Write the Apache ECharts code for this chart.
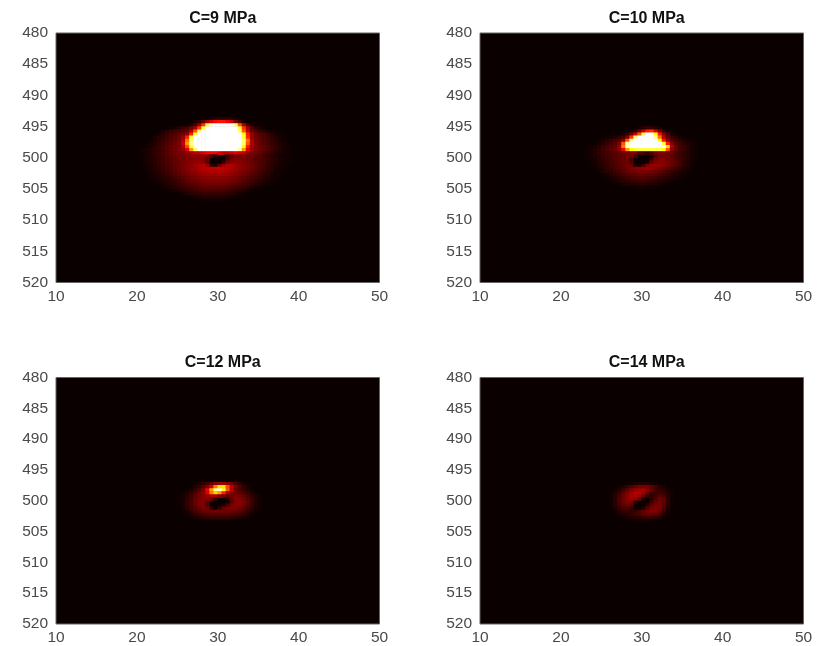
<!DOCTYPE html>
<html><head><meta charset="utf-8">
<style>html,body{margin:0;padding:0;background:#fff}#c{width:823px;height:646px;filter:blur(0.6px)}</style>
<script src="https://cdn.jsdelivr.net/npm/echarts@6/dist/echarts.min.js"></script>
</head><body><div id="c"></div>
<script>
const titles = ['C=9 MPa','C=10 MPa','C=12 MPa','C=14 MPa'];
const xTicks = {min:10,max:50,step:10};
const yTicks = {min:480,max:520,step:5};
const cellSize = 0.5;
// intensities (0-100) on a 0.5 x 0.5 cell grid, first cell at the given x/y
const c9Start = [20,493.5];
const c9Rows = [
[0,0,0,0,0,0,0,0,0,0,0,0,0,0,0,0,0,1,2,3,4,4,4,3,2,1],
[0,0,0,0,0,0,0,0,0,0,0,0,0,0,2,5,12,22,32,38,40,40,36,28,16,7,2],
[0,0,0,0,0,0,0,0,0,0,0,0,0,3,8,20,45,80,96,100,100,100,100,98,85,50,22,8,3],
[0,0,0,0,0,0,0,0,1,2,4,6,8,13,22,45,80,100,100,100,100,100,100,100,100,80,45,20,10,5,3,1],
[0,0,0,0,0,0,2,4,6,7,8,10,12,22,50,85,100,100,100,100,100,100,100,100,100,85,50,24,13,9,6,4,2,1],
[0,0,0,0,0,2,4,6,8,9,11,13,20,42,80,100,100,100,100,100,100,100,100,100,100,100,75,40,20,13,10,8,6,4,2,1],
[0,0,0,0,2,4,5,7,9,11,14,20,42,80,100,100,100,100,100,100,100,100,100,100,100,100,80,42,20,14,11,9,7,5,3,2,1],
[0,0,0,1,2,4,6,8,10,12,15,24,55,85,100,100,100,100,100,100,100,100,100,100,100,100,88,55,24,15,12,10,8,6,4,2,1],
[0,0,1,2,3,5,7,9,11,13,15,28,60,88,100,100,100,100,100,100,100,100,100,100,100,100,85,50,24,15,12,10,8,6,4,3,2,1],
[0,0,1,2,4,6,8,10,12,14,16,24,48,80,100,100,100,100,100,100,100,100,100,100,100,100,75,40,22,16,13,11,9,7,5,3,2,1],
[0,1,2,3,5,6,8,10,12,14,16,20,32,60,85,100,100,100,100,100,100,100,100,100,100,90,60,32,20,16,13,11,9,7,5,3,2,1],
[0,1,2,3,5,6,8,10,12,13,15,16,18,22,26,28,32,36,38,38,32,26,26,30,34,30,26,20,16,14,12,10,8,6,4,3,2,1,0,0],
[0,1,2,3,5,6,8,10,11,13,14,15,16,18,19,19,18,16,10,4,0,0,6,12,15,15,15,14,13,11,10,8,6,4,3,2,1,1,0,0],
[1,1,2,3,4,6,7,9,10,12,13,14,16,17,18,18,17,12,0,0,0,0,8,14,16,16,15,14,12,10,10,8,7,5,4,2,2,1,1,0],
[0,1,2,3,4,6,7,9,10,12,13,15,16,18,19,20,18,10,0,0,0,6,14,17,18,17,16,14,13,11,9,8,6,5,3,2,1,1,0,0],
[0,1,1,2,4,5,7,8,10,11,13,15,17,19,21,23,25,20,5,3,12,20,24,24,21,19,17,15,13,11,9,8,6,4,3,2,1,0,0,0],
[0,0,1,2,3,5,6,8,9,11,13,15,17,19,21,23,25,26,26,26,27,27,25,23,21,19,17,15,13,11,9,7,5,4,2,2,1,0,0,0],
[0,0,1,2,3,4,6,7,8,10,12,14,16,18,19,21,22,23,24,24,24,23,22,21,19,17,15,13,12,10,8,6,5,3,2,1],
[0,0,0,1,2,3,5,6,7,9,11,12,14,16,17,19,20,21,21,21,21,21,20,19,17,15,14,12,10,8,7,5,4,2,1,1],
[0,0,0,1,2,3,4,5,6,8,9,11,12,14,15,17,18,18,19,19,19,18,17,16,15,13,12,10,9,7,6,4,3,2,1],
[0,0,0,0,1,2,3,4,5,6,8,9,11,12,13,14,15,16,16,16,16,16,15,14,13,11,10,9,7,6,4,3,2,1],
[0,0,0,0,0,1,2,3,4,5,6,8,9,10,11,12,13,13,14,14,14,13,13,12,11,10,8,7,6,4,3,2,1],
[0,0,0,0,0,0,1,2,3,4,5,6,7,8,9,10,11,11,11,11,11,11,10,9,8,7,6,5,3,2,1],
[0,0,0,0,0,0,0,0,1,2,3,4,5,6,7,8,8,9,9,9,8,8,7,6,5,4,3,2,1],
[0,0,0,0,0,0,0,0,0,0,1,2,3,4,5,5,6,6,6,6,6,5,5,4,3,2,1],
[0,0,0,0,0,0,0,0,0,0,0,0,0,1,2,2,3,3,3,3,3,3,2,2,1],
[0,0,0,0,0,0,0,0,0,0,0,0,0,0,0,0,1,1,1,1,1,1]
];
const c10Start = [23,495];
const c10Rows = [
[0,0,0,0,0,0,0,0,0,0,0,0,0,2,4,6,6,4,2],
[0,0,0,0,0,0,0,0,0,0,0,2,6,14,28,42,44,30,14,6,2],
[0,0,0,0,0,0,0,0,0,2,6,14,28,50,85,100,100,75,40,18,8,3,1],
[0,0,0,0,0,1,2,3,5,7,16,45,85,100,100,100,100,90,55,24,12,7,4,2,1],
[0,0,0,1,2,4,6,8,10,18,50,90,100,100,100,100,100,98,75,40,18,10,7,5,3,1],
[0,0,1,2,4,6,8,10,16,50,90,100,100,100,100,100,100,100,100,80,40,18,10,7,5,3,2,1],
[0,1,2,4,6,8,10,12,20,55,95,100,100,100,100,100,100,100,100,100,70,24,12,8,6,4,2,1],
[1,2,3,5,7,9,11,13,18,35,60,75,80,82,82,82,82,82,82,75,50,20,12,8,6,4,2,1],
[1,2,3,5,6,8,9,10,12,13,15,16,15,10,8,6,8,14,16,16,14,11,9,7,5,3,2,1],
[1,2,3,4,6,7,9,10,11,13,14,14,8,0,0,0,0,10,14,15,14,11,9,7,5,3,2,1],
[1,1,2,4,5,7,8,10,11,12,13,9,0,0,0,0,6,13,15,15,14,12,9,7,5,3,1,1],
[0,1,2,3,5,6,8,9,11,12,13,8,0,0,0,2,12,16,17,17,15,13,10,8,5,3,1],
[0,1,1,3,4,6,7,9,10,12,14,13,3,1,8,16,19,20,19,17,15,12,10,7,5,3,1],
[0,0,1,2,3,5,6,8,10,11,13,15,17,18,19,20,19,17,15,13,11,9,7,5,3,2,1],
[0,0,0,1,3,4,5,7,8,10,12,13,14,15,15,15,14,13,12,10,8,6,5,3,2,1],
[0,0,0,0,1,2,4,5,6,8,9,10,11,12,12,11,11,10,8,7,6,4,3,2,1],
[0,0,0,0,0,1,2,3,4,6,7,8,9,9,10,9,8,7,6,5,4,3,2,1],
[0,0,0,0,0,0,1,2,3,4,5,6,6,7,7,6,6,5,4,3,2,1],
[0,0,0,0,0,0,0,0,1,2,3,3,4,4,4,4,3,3,2,1],
[0,0,0,0,0,0,0,0,0,0,0,1,1,2,2,1,1]
];
const c12Start = [25,497];
const c12Rows = [
[0,0,0,0,1,3,5,8,12,17,20,20,18,14,9,5,2],
[0,0,0,1,3,6,10,16,30,55,70,70,48,26,15,9,5,2],
[0,0,1,3,6,10,15,35,62,88,95,80,50,26,13,9,6,3,1],
[0,1,3,5,9,13,18,32,55,68,60,42,24,16,13,11,8,6,3,1],
[1,2,4,7,11,14,17,20,24,24,18,14,12,14,15,14,11,8,5,3,1],
[1,2,5,8,12,15,17,17,12,5,0,0,3,12,17,17,14,10,6,3,1],
[1,3,5,8,12,15,16,10,0,0,0,0,2,10,16,18,15,11,7,3,1],
[1,2,5,8,12,15,16,9,0,0,0,2,9,15,17,17,14,10,6,3,1],
[0,2,4,7,10,13,15,14,4,1,6,12,15,16,16,14,11,8,5,2,1],
[0,1,2,5,8,10,12,13,14,14,14,14,14,13,12,11,9,6,3,1],
[0,0,1,3,5,7,8,9,10,10,10,10,10,9,8,7,5,3,1],
[0,0,0,1,2,3,4,5,6,6,6,6,6,5,4,3,2,1]
];
const c14Start = [26,497];
const c14Rows = [
[0,0,0,0,0,1,2,3,3,3,2,1],
[0,0,1,3,6,9,12,14,15,14,11,7,4,2],
[0,1,3,7,11,16,20,22,22,18,12,7,5,4,2,1],
[1,3,6,11,16,21,24,25,21,13,7,6,7,6,3,1],
[1,4,8,13,18,22,24,20,12,6,5,7,10,8,4,1],
[1,4,9,13,18,21,19,11,2,0,4,9,13,11,5,1],
[1,4,9,13,16,15,4,0,0,0,7,12,14,11,5,1],
[1,4,8,11,13,10,0,0,0,5,11,14,15,11,4,1],
[0,3,6,9,9,6,0,0,4,10,14,16,15,9,3],
[0,1,4,6,6,5,6,8,11,14,16,16,13,7,2],
[0,0,2,3,4,5,7,9,11,12,12,11,8,4,1],
[0,0,0,1,2,3,4,4,5,6,6,5,3,1],
[0,0,0,0,0,1,1,1,2,1,1]
];
const panelRows = [c9Rows,c10Rows,c12Rows,c14Rows];
const panelStarts = [c9Start,c10Start,c12Start,c14Start];
const boxes = [
 {left:56,top:33,width:323.5,height:249.5},
 {left:480,top:33,width:323.5,height:249.5},
 {left:56,top:377.5,width:323.5,height:247},
 {left:480,top:377.5,width:323.5,height:247}
];
const textGrey='#4a4a4a', FONT='"Liberation Sans",Arial,sans-serif';
function cells(rows,start){
  const out=[];
  rows.forEach((r,j)=>r.forEach((v,i)=>{ if(v>0) out.push([start[0]+i*cellSize,start[1]+j*cellSize,v]); }));
  return out;
}
function renderCell(params,api){
  const p=api.coord([api.value(0),api.value(1)]);
  const s=api.size([cellSize,cellSize]);
  return {type:'rect',shape:{x:p[0]-0.3,y:p[1]-0.3,width:s[0]+0.6,height:s[1]+0.6},style:{fill:api.visual('color')}};
}
const option={
  animation:false,
  backgroundColor:'#fff',
  title:titles.map((t,i)=>({text:t,left:boxes[i].left+boxes[i].width/2,top:boxes[i].top-27.5,textAlign:'center',
    textStyle:{fontFamily:FONT,fontWeight:'bold',fontSize:16,color:'#111'}})),
  grid:boxes.map(b=>Object.assign({show:true,backgroundColor:'#0a0000',borderColor:'#666',borderWidth:1},b)),
  xAxis:boxes.map((b,i)=>({type:'value',gridIndex:i,min:xTicks.min,max:xTicks.max,interval:xTicks.step,position:'bottom',
    axisLine:{show:false},axisTick:{show:false},splitLine:{show:false},
    axisLabel:{fontFamily:FONT,fontSize:15.5,color:textGrey,margin:6,showMinLabel:true,showMaxLabel:true,hideOverlap:false}})),
  yAxis:boxes.map((b,i)=>({type:'value',gridIndex:i,inverse:true,min:yTicks.min,max:yTicks.max,interval:yTicks.step,
    axisLine:{show:false},axisTick:{show:false},splitLine:{show:false},
    axisLabel:{fontFamily:FONT,fontSize:15.5,color:textGrey,margin:8,showMinLabel:true,showMaxLabel:true,hideOverlap:false}})),
  visualMap:{show:false,type:'continuous',min:0,max:100,dimension:2,seriesIndex:[0,1,2,3],
    inRange:{color:['#0a0000','#680000','#b60000','#ff0000','#ff5500','#ffaa00','#ffff00','#ffff80','#ffffff']}},
  series:panelRows.map((rows,i)=>({type:'custom',xAxisIndex:i,yAxisIndex:i,coordinateSystem:'cartesian2d',
    clip:true,renderItem:renderCell,encode:{x:0,y:1},data:cells(rows,panelStarts[i])}))
};
echarts.init(document.getElementById('c'),null,{renderer:'canvas'}).setOption(option);
</script></body></html>
